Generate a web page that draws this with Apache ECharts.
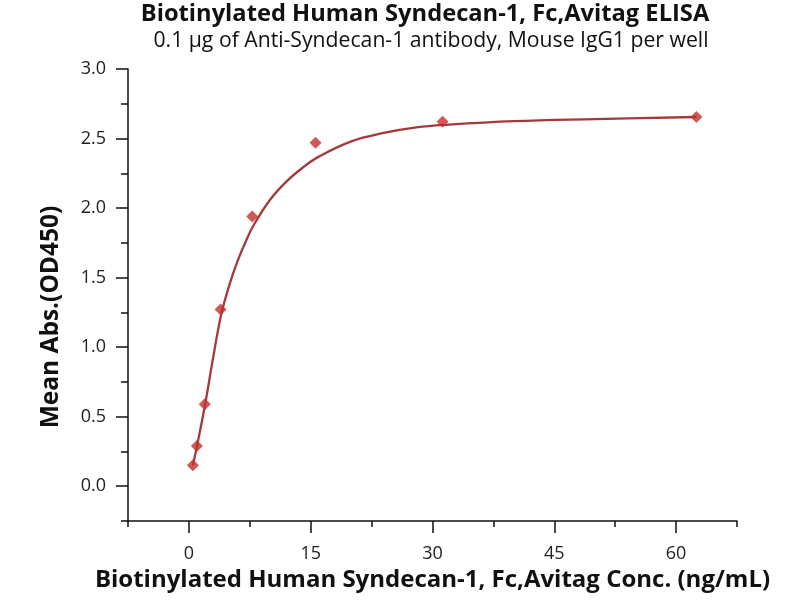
<!DOCTYPE html>
<html>
<head>
<meta charset="utf-8">
<script src="https://cdn.jsdelivr.net/npm/echarts@6/dist/echarts.min.js"></script>
<style>html,body{margin:0;padding:0;background:#fff}#c{width:800px;height:600px}</style>
</head>
<body>
<div id="c"></div>
<script>
// Measured ELISA points (concentration ng/mL, mean absorbance OD450)
const concentrations = [0.49, 0.98, 1.95, 3.9, 7.8, 15.6, 31.25, 62.5];
const absorbances = [0.15, 0.29, 0.59, 1.27, 1.94, 2.47, 2.62, 2.655];
// Fitted curve
const curveX = [0.49, 1, 2, 3, 4, 5, 6, 7, 8, 10, 12, 14, 16, 20, 24, 28, 32, 40, 50, 62.5];
const curveY = [0.15, 0.29, 0.59, 0.93, 1.24, 1.45, 1.62, 1.76, 1.88, 2.06, 2.19, 2.29, 2.37, 2.48, 2.54, 2.58, 2.60, 2.625, 2.64, 2.655];
const xLabelValues = [0, 15, 30, 45, 60];
const yLabelValues = [0, 0.5, 1.0, 1.5, 2.0, 2.5, 3.0];

const titleText = 'Biotinylated Human Syndecan-1, Fc,Avitag ELISA';
const subtitleText = '0.1 μg of Anti-Syndecan-1 antibody, Mouse IgG1 per well';
const xName = 'Biotinylated Human Syndecan-1, Fc,Avitag Conc. (ng/mL)';
const yName = 'Mean Abs.(OD450)';

const FONT = 'Open Sans';
const INK = '#111';
const chart = echarts.init(document.getElementById('c'));
const near = (v, arr) => arr.some(a => Math.abs(a - v) < 1e-6);
const X_MIN = -7.5, X_MAX = 67.5, Y_MIN = -0.25, Y_MAX = 3.0;
chart.setOption({
  animation: false,
  backgroundColor: '#fff',
  title: [
    { text: titleText, left: 420, top: -3, textAlign: 'center',
      textStyle: { fontFamily: FONT, fontSize: 23.7, fontWeight: 'bold', color: INK } },
    { text: subtitleText, left: 426, top: 25, textAlign: 'center',
      textStyle: { fontFamily: FONT, fontSize: 21.2, fontWeight: 'normal', color: INK } }
  ],
  grid: { left: 128, right: 63, top: 69, bottom: 79, containLabel: false },
  xAxis: [
    {
      type: 'value', min: X_MIN, max: X_MAX, interval: 7.5,
      name: xName, nameLocation: 'middle', nameGap: 46,
      nameTextStyle: { fontFamily: FONT, fontSize: 24, fontWeight: 'bold', color: INK },
      axisLine: { show: true, onZero: false, lineStyle: { color: INK, width: 1.5 } },
      axisTick: { show: true, inside: false, length: 6, lineStyle: { color: INK, width: 1.5 } },
      axisLabel: { fontFamily: FONT, fontSize: 18, color: '#222', margin: 24,
        formatter: v => near(v, xLabelValues) ? String(Math.round(v)) : '' },
      splitLine: { show: false }
    },
    {
      type: 'value', min: X_MIN, max: X_MAX, position: 'bottom',
      axisLine: { show: false, onZero: false },
      axisTick: { show: true, inside: false, length: 12, customValues: xLabelValues,
        lineStyle: { color: INK, width: 1.5 } },
      axisLabel: { show: false },
      splitLine: { show: false }
    }
  ],
  yAxis: [
    {
      type: 'value', min: Y_MIN, max: Y_MAX, interval: 0.25,
      name: yName, nameLocation: 'middle', nameGap: 64,
      nameTextStyle: { fontFamily: FONT, fontSize: 24.5, fontWeight: 'bold', color: INK,
        padding: [0, 44, 0, 0] },
      axisLine: { show: true, onZero: false, lineStyle: { color: INK, width: 1.5 } },
      axisTick: { show: true, inside: false, length: 7, lineStyle: { color: INK, width: 1.5 } },
      axisLabel: { fontFamily: FONT, fontSize: 18, color: '#222', margin: 22,
        formatter: v => near(v, yLabelValues) ? v.toFixed(1) : '' },
      splitLine: { show: false }
    },
    {
      type: 'value', min: Y_MIN, max: Y_MAX, position: 'left',
      axisLine: { show: false, onZero: false },
      axisTick: { show: true, inside: false, length: 12, customValues: yLabelValues,
        lineStyle: { color: INK, width: 1.5 } },
      axisLabel: { show: false },
      splitLine: { show: false }
    }
  ],
  series: [
    { type: 'line', data: curveX.map((x, i) => [x, curveY[i]]), smooth: 0.4,
      showSymbol: false, symbol: 'none',
      lineStyle: { color: '#a3393a', width: 2.3 }, z: 2 },
    { type: 'scatter', data: concentrations.map((x, i) => [x, absorbances[i]]),
      symbol: 'diamond', symbolSize: 12,
      itemStyle: { color: '#c22f2d' }, z: 3 }
  ]
});
</script>
</body>
</html>
